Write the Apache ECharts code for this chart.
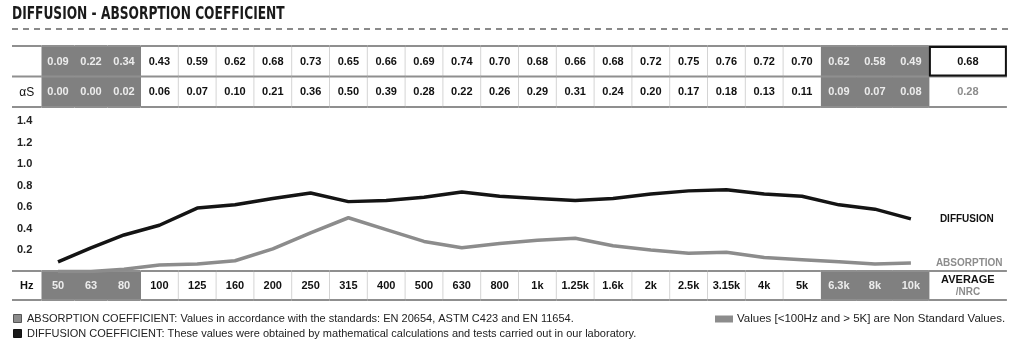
<!DOCTYPE html>
<html>
<head>
<meta charset="utf-8">
<script src="https://cdn.jsdelivr.net/npm/echarts@6/dist/echarts.min.js"></script>
<style>
html,body{margin:0;padding:0;background:#fff;}
#chart{width:1023px;height:345px;}
</style>
</head>
<body>
<div id="chart"></div>
<script>
// ---------- DATA ----------
const freqs = ['50','63','80','100','125','160','200','250','315','400','500','630','800','1k','1.25k','1.6k','2k','2.5k','3.15k','4k','5k','6.3k','8k','10k'];
const freqHz = [50,63,80,100,125,160,200,250,315,400,500,630,800,1000,1250,1600,2000,2500,3150,4000,5000,6300,8000,10000];
const diffusion = [0.09,0.22,0.34,0.43,0.59,0.62,0.68,0.73,0.65,0.66,0.69,0.74,0.70,0.68,0.66,0.68,0.72,0.75,0.76,0.72,0.70,0.62,0.58,0.49];
const absorption = [0.00,0.00,0.02,0.06,0.07,0.10,0.21,0.36,0.50,0.39,0.28,0.22,0.26,0.29,0.31,0.24,0.20,0.17,0.18,0.13,0.11,0.09,0.07,0.08];
const averageDiffusion = 0.68;
const nrcAbsorption = 0.28;
const yTicks = [0.2,0.4,0.6,0.8,1.0,1.2,1.4];

const titleText = 'DIFFUSION - ABSORPTION COEFFICIENT';
const rowLabels = ['', 'αS'];
const hzLabel = 'Hz';
const seriesNames = ['DIFFUSION', 'ABSORPTION'];
const legendTexts = [
  'ABSORPTION COEFFICIENT: Values in accordance with the standards: EN 20654, ASTM C423 and EN 11654.',
  'DIFFUSION COEFFICIENT: These values were obtained by mathematical calculations and tests carried out in our laboratory.'
];
const nonStdText = 'Values [<100Hz and > 5K] are Non Standard Values.';

// ---------- LAYOUT (column widths in axis units = px) ----------
const isNonStd = hz => hz < 100 || hz > 5000;
const LABEL_W = 29.5, AVG_W = 78;
function colW(i){ const hz = freqHz[i]; if (hz < 100) return 33; if (hz > 5000) return 36; return 37.8; }
const colStart = [], colEnd = [];
let acc = LABEL_W;
freqs.forEach((f,i)=>{ colStart.push(acc); acc += colW(i); colEnd.push(acc); });
const avgStart = acc, avgEnd = acc + AVG_W;
const TOTAL = avgEnd;
const center = i => (colStart[i] + colEnd[i]) / 2;

const FONT = '"Liberation Sans", Arial, Helvetica, sans-serif';
const GRAY = '#808080';
const LINEGRAY = '#8f8f8f';

// ---------- TABLE CELLS ----------
function buildTopCells(){
  const cells = [];
  const rows = [diffusion, absorption];
  rows.forEach((vals, r)=>{
    cells.push({x0:0, x1:LABEL_W, row:r, text:rowLabels[r], color:'#111', weight:'normal', size:12});
    vals.forEach((v,i)=>{
      const ns = isNonStd(freqHz[i]);
      cells.push({x0:colStart[i], x1:colEnd[i], row:r, text:v.toFixed(2),
        bg: ns ? GRAY : null, color: ns ? '#ececec' : '#111', weight:'bold', size:11,
        sep: !ns && i > 0 && !isNonStd(freqHz[i-1])});
    });
    cells.push({x0:avgStart, x1:avgEnd, row:r,
      text: (r===0 ? averageDiffusion : nrcAbsorption).toFixed(2),
      color: r===0 ? '#111' : '#8c8c8c', weight:'bold', size:11, box: r===0});
  });
  return cells;
}
function buildBottomCells(){
  const cells = [];
  cells.push({x0:0, x1:LABEL_W, row:0, text:hzLabel, color:'#111', weight:'bold', size:11});
  freqs.forEach((f,i)=>{
    const ns = isNonStd(freqHz[i]);
    cells.push({x0:colStart[i], x1:colEnd[i], row:0, text:f,
      bg: ns ? GRAY : null, color: ns ? '#ececec' : '#111', weight:'bold', size:11,
      sep: !ns && i > 0 && !isNonStd(freqHz[i-1])});
  });
  cells.push({x0:avgStart, x1:avgEnd, row:0, rich:true, text:'{a|AVERAGE}\n{b|/NRC}'});
  return cells;
}
const topCells = buildTopCells();
const bottomCells = buildBottomCells();

function makeRender(cells){
  return function(params, api){
    const c = cells[params.dataIndex];
    const p0 = api.coord([c.x0, c.row]);
    const p1 = api.coord([c.x1, c.row + 1]);
    const x = p0[0], y = p0[1], w = p1[0]-p0[0], h = p1[1]-p0[1];
    const ch = [];
    if (c.bg) ch.push({type:'rect', shape:{x:x, y:y, width:w+0.5, height:h}, style:{fill:c.bg}, z2:0});
    if (c.sep) ch.push({type:'line', shape:{x1:x, y1:y, x2:x, y2:y+h}, style:{stroke:'#d4d4d4', lineWidth:1}, z2:5});
    if (c.row === 0) ch.push({type:'line', shape:{x1:x, y1:y, x2:x+w, y2:y}, style:{stroke:LINEGRAY, lineWidth:2}, z2:6});
    ch.push({type:'line', shape:{x1:x, y1:y+h, x2:x+w, y2:y+h}, style:{stroke:LINEGRAY, lineWidth:2}, z2:6});
    if (c.box) ch.push({type:'rect', shape:{x:x+1, y:y+1, width:w-2, height:h-2}, style:{fill:null, stroke:'#111', lineWidth:2}, z2:8});
    if (c.rich){
      ch.push({type:'text', z2:10, style:{text:c.text, x:x+w/2, y:y+h/2+0.5, align:'center', verticalAlign:'middle',
        rich:{a:{fontFamily:FONT, fontWeight:'bold', fontSize:11, fill:'#111', lineHeight:13, align:'center'},
              b:{fontFamily:FONT, fontWeight:'bold', fontSize:10, fill:'#8c8c8c', lineHeight:13, align:'center'}}}});
    } else if (c.text){
      ch.push({type:'text', z2:10, style:{text:c.text, x:x+w/2, y:y+h/2+0.5, align:'center', verticalAlign:'middle',
        fontFamily:FONT, fontWeight:c.weight, fontSize:c.size, fill:c.color}});
    }
    return {type:'group', children:ch};
  };
}

const chart = echarts.init(document.getElementById('chart'), null, {renderer:'canvas'});
const hiddenX = idx => ({type:'value', gridIndex:idx, min:0, max:TOTAL, show:false});

const option = {
  animation:false,
  backgroundColor:'#fff',
  grid:[
    {left:12, width:TOTAL, top:121, height:150.5},
    {left:12, width:TOTAL, top:46, height:61},
    {left:12, width:TOTAL, top:271, height:29}
  ],
  xAxis:[hiddenX(0), hiddenX(1), hiddenX(2)],
  yAxis:[
    {type:'value', gridIndex:0, min:0, max:yTicks[yTicks.length-1], interval:0.2,
     axisLine:{show:false}, axisTick:{show:false}, splitLine:{show:false},
     axisLabel:{inside:true, margin:5, fontFamily:FONT, fontWeight:'bold', fontSize:11, color:'#222',
       formatter: v => yTicks.some(t=>Math.abs(t-v)<1e-6) ? v.toFixed(1) : ''}},
    {type:'value', gridIndex:1, min:0, max:2, inverse:true, show:false},
    {type:'value', gridIndex:2, min:0, max:1, inverse:true, show:false}
  ],
  series:[
    {type:'line', name:seriesNames[1], xAxisIndex:0, yAxisIndex:0, symbol:'none', z:3,
     data: absorption.map((v,i)=>[center(i), v]),
     lineStyle:{color:'#8c8c8c', width:3.5},
     endLabel:{show:true, formatter:seriesNames[1], distance:25, fontFamily:FONT, fontWeight:'bold', fontSize:10, color:'#8c8c8c'}},
    {type:'line', name:seriesNames[0], xAxisIndex:0, yAxisIndex:0, symbol:'none', z:4,
     data: diffusion.map((v,i)=>[center(i), v]),
     lineStyle:{color:'#141414', width:3.5},
     endLabel:{show:true, formatter:seriesNames[0], distance:29, fontFamily:FONT, fontWeight:'bold', fontSize:10, color:'#111'}},
    {type:'custom', xAxisIndex:1, yAxisIndex:1, clip:false, z:2,
     data: topCells.map(c=>[c.x0, c.x1, c.row]), encode:{x:[0,1], y:2},
     renderItem: makeRender(topCells)},
    {type:'custom', xAxisIndex:2, yAxisIndex:2, clip:false, z:2,
     data: bottomCells.map(c=>[c.x0, c.x1, c.row]), encode:{x:[0,1], y:2},
     renderItem: makeRender(bottomCells)}
  ],
  graphic:[
    {type:'text', x:12, y:14.5, scaleX:0.8,
     style:{text:titleText, fontFamily:'"DejaVu Sans Condensed", "DejaVu Sans", sans-serif', fontWeight:'bold', fontSize:17, fill:'#1a1a1a', verticalAlign:'middle'}},
    {type:'line', shape:{x1:12, y1:29, x2:1010, y2:29}, style:{stroke:'#8a8a8a', lineWidth:2, lineDash:[6,5]}},
    {type:'rect', shape:{x:13.5, y:314.5, width:8, height:8}, style:{fill:'#8c8c8c', stroke:'#555', lineWidth:1}},
    {type:'text', x:27, y:319, style:{text:legendTexts[0], fontFamily:FONT, fontSize:11, fill:'#222', verticalAlign:'middle'}},
    {type:'rect', shape:{x:13.5, y:329.5, width:8, height:8}, style:{fill:'#1a1a1a', stroke:'#111', lineWidth:1}},
    {type:'text', x:27, y:334, style:{text:legendTexts[1], fontFamily:FONT, fontSize:11, fill:'#222', verticalAlign:'middle'}},
    {type:'rect', shape:{x:715, y:315.5, width:18, height:7}, style:{fill:'#8c8c8c'}},
    {type:'text', x:737, y:319, style:{text:nonStdText, fontFamily:FONT, fontSize:11.5, fill:'#222', verticalAlign:'middle'}}
  ]
};
chart.setOption(option);
</script>
</body>
</html>
